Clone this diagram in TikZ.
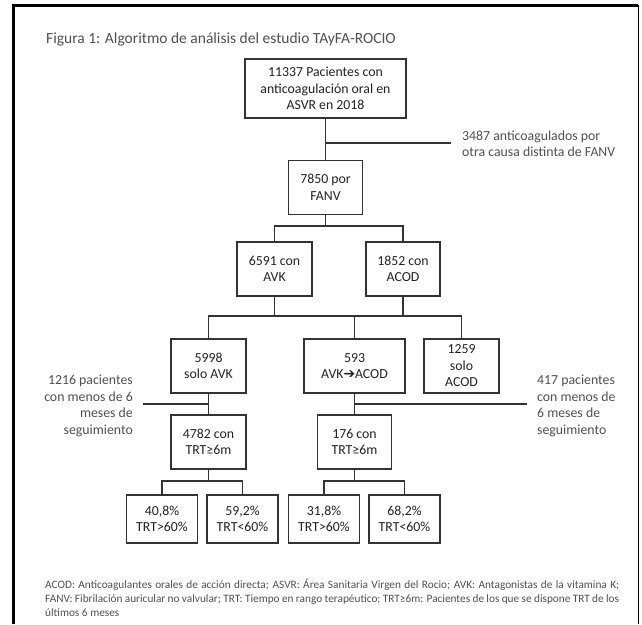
\documentclass[tikz,border=0pt]{standalone}
\usepackage{fontspec}
\setmainfont{Carlito}
\newfontfamily\flecha{DejaVu Sans}
\definecolor{texto}{HTML}{222222}
\definecolor{gris}{HTML}{505050}
\definecolor{linea}{HTML}{333333}
\begin{document}
\begin{tikzpicture}[x=1pt, y=-1pt,
    caja/.style={draw=linea, line width=1.3pt, text=texto, align=center, inner sep=0pt,
        minimum height=54pt, font=\fontsize{13.8}{16.5}\selectfont},
    lateral/.style={text=gris, inner sep=0pt, font=\fontsize{13.8}{16.5}\selectfont},
    conector/.style={draw=linea, line width=1.3pt},
    titulo/.style={text=gris, inner sep=0pt, font=\fontsize{15.5}{18}\selectfont},
    nota/.style={text=gris, inner sep=0pt, font=\fontsize{11.3}{14}\selectfont}]
\useasboundingbox (0,0) rectangle (642,624);
\draw[line width=3pt] (13,624)--(13,5)--(638,5);
\draw[line width=.8pt] (638,5)--(638,624);
\node[titulo, anchor=west] (titulo) at (46,39) {Figura 1: Algoritmo de análisis del estudio TAyFA-ROCIO};

\node[caja, minimum width=161pt, minimum height=59pt] (total) at (325.5,88.5) {11337 Pacientes con\\anticoagulación oral en\\ASVR en 2018};
\node[caja, minimum width=74pt] (fanv) at (325.5,187.5) {7850 por\\FANV};
\node[caja, minimum width=75pt] (avk) at (274.5,269) {6591 con\\AVK};
\node[caja, minimum width=74pt] (acod) at (403,269) {1852 con\\ACOD};
\node[caja, minimum width=75pt] (soloavk) at (208.5,366) {5998\\solo AVK};
\node[caja, minimum width=101pt] (cambio) at (354.5,366) {593\\AVK{\flecha ➔}ACOD};
\node[caja, minimum width=75pt] (soloacod) at (461.5,366) {1259\\solo\\ACOD};
\node[caja, minimum width=75pt] (trtavk) at (208.5,442) {4782 con\\TRT≥6m};
\node[caja, minimum width=74pt] (trtcambio) at (354.5,442) {176 con\\TRT≥6m};
\foreach \nombre/\x/\cifra/\signo in {avkbueno/162/{40,8}/>, avkmalo/242.5/{59,2}/<, cambiobueno/324/{31,8}/>, cambiomalo/404.5/{68,2}/<}
{
    \node[caja, minimum width=71pt, minimum height=48pt] (\nombre) at (\x,519) {\cifra\%\\TRT\signo60\%};
}

% ramas
\coordinate (excl1) at (451,143);
\coordinate (ramaA) at (325.5,226);
\coordinate (ramaB) at (354.5,316);
\coordinate (excl2) at (143,404);
\coordinate (excl3) at (527,404);
\coordinate (ramaC) at (208.5,481);
\coordinate (ramaD) at (354.5,481);
\draw[conector] (total)--(fanv);
\draw[conector] (total.south |- excl1)--(excl1);
\draw[conector] (fanv)--(ramaA);
\draw[conector] (avk.north) |- (ramaA) -| (acod.north);
\draw[conector] (avk.south)--(avk.south |- ramaB);
\draw[conector] (acod.south)--(acod.south |- ramaB);
\draw[conector] (soloavk.north) |- (ramaB) -| (soloacod.north);
\draw[conector] (cambio.north)--(ramaB);
\draw[conector] (soloavk)--(trtavk);
\draw[conector] (excl2)--(soloavk.south |- excl2);
\draw[conector] (cambio)--(trtcambio);
\draw[conector] (cambio.south |- excl3)--(excl3);
\draw[conector] (trtavk)--(ramaC);
\draw[conector] (avkbueno.north) |- (ramaC) -| (avkmalo.north);
\draw[conector] (trtcambio)--(ramaD);
\draw[conector] (cambiobueno.north) |- (ramaD) -| (cambiomalo.north);

\node[lateral, anchor=west, align=left] (otra) at (462,144) {3487 anticoagulados por\\otra causa distinta de FANV};
\node[lateral, anchor=east, align=right] (menos1) at (133,406) {1216 pacientes\\con menos de 6\\meses de\\seguimiento};
\node[lateral, anchor=west, align=left] (menos2) at (537,406) {417 pacientes\\con menos de\\6 meses de\\seguimiento};

\node[nota, anchor=north west, text width=574pt, align=justify] (nota) at (45,579) {ACOD: Anticoagulantes orales de acción directa; ASVR: Área Sanitaria Virgen del Rocio; AVK: Antagonistas de la vitamina K;\linebreak FANV: Fibrilación auricular no valvular; TRT: Tiempo en rango terapéutico; TRT≥6m: Pacientes de los que se dispone TRT de los\linebreak últimos 6 meses};
\end{tikzpicture}
\end{document}
